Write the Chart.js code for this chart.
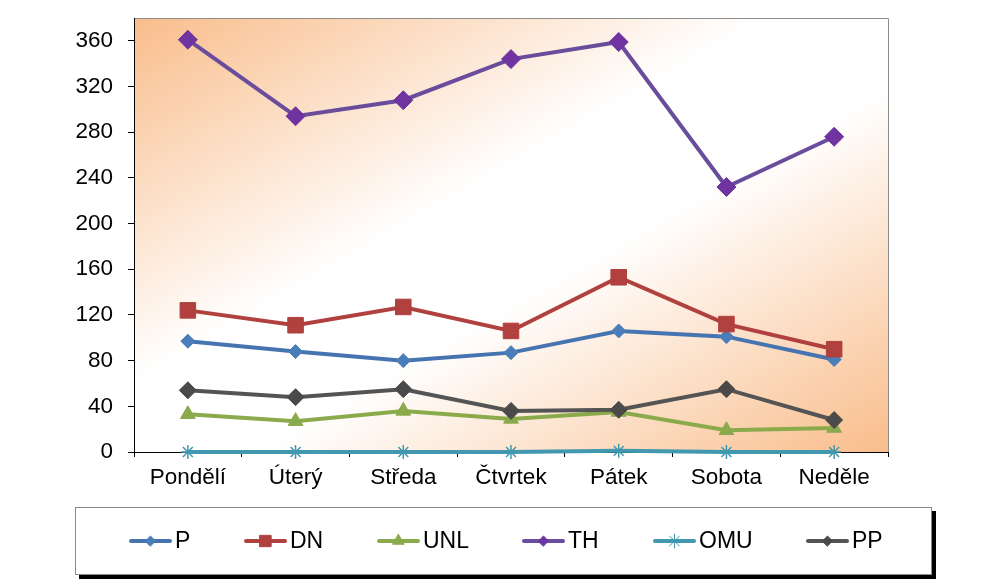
<!DOCTYPE html>
<html>
<head>
<meta charset="utf-8">
<script src="https://cdn.jsdelivr.net/npm/chart.js@4/dist/chart.umd.min.js"></script>
<style>
  html, body { margin: 0; padding: 0; background: #fff; }
  canvas { display: block; }
</style>
</head>
<body>
<canvas id="graf" width="981" height="580"></canvas>
<script>
// Data
const dny = ['Pondělí', 'Úterý', 'Středa', 'Čtvrtek', 'Pátek', 'Sobota', 'Neděle'];
const hodnotyP = [97, 88, 80, 87, 106, 101, 81];
const hodnotyDN = [124, 111, 127, 106, 153, 112, 90];
const hodnotyUNL = [33, 27, 36, 29, 35, 19, 21];
const hodnotyTH = [361, 294, 308, 344, 359, 232, 276];
const hodnotyOMU = [0, 0, 0, 0, 1, 0, 0];
const hodnotyPP = [54, 48, 55, 36, 37, 55, 28];
const osaYMax = 380;
const osaYKrok = 40;

const font = '"Liberation Sans", Arial, sans-serif';

// Series styles
const serie = [
  { label: 'P',   data: hodnotyP,   line: '#4674B0', fill: '#4A7EBB', style: 'rectRot',  r: 7,   lr: 5 },
  { label: 'DN',  data: hodnotyDN,  line: '#B0413E', fill: '#B0413E', style: 'rect',     r: 11,  lr: 8 },
  { label: 'UNL', data: hodnotyUNL, line: '#8AAA4C', fill: '#8AAA4C', style: 'triangle', r: 8.5, lr: 6.5 },
  { label: 'TH',  data: hodnotyTH,  line: '#6A4C9C', fill: '#7034A0', style: 'rectRot',  r: 9.5, lr: 5 },
  { label: 'OMU', data: hodnotyOMU, line: '#4198AF', fill: '#4198AF', style: 'star',     r: 7,   lr: 7 },
  { label: 'PP',  data: hodnotyPP,  line: '#545454', fill: '#4A4A4A', style: 'rectRot',  r: 8.5, lr: 5 }
];

// Background gradient + grey top/right border of the plot area
const pozadiPlugin = {
  id: 'pozadi',
  beforeDraw(chart) {
    const { ctx, chartArea: a } = chart;
    const w = a.right - a.left, h = a.bottom - a.top;
    const cx = a.left + w / 2, cy = a.top + h / 2;
    const n = Math.sqrt(w * w + h * h);
    const ux = h / n, uy = w / n;
    const L = w * h / n;
    const g = ctx.createLinearGradient(cx - ux * L, cy - uy * L, cx + ux * L, cy + uy * L);
    g.addColorStop(0, '#F9BD8B');
    g.addColorStop(0.42, '#FFFFFF');
    g.addColorStop(0.58, '#FFFFFF');
    g.addColorStop(1, '#F9BD8B');
    ctx.save();
    ctx.fillStyle = g;
    ctx.fillRect(a.left, a.top, w, h);
    ctx.strokeStyle = '#8C8C8C';
    ctx.lineWidth = 1;
    ctx.beginPath();
    ctx.moveTo(a.left, a.top + 0.5);
    ctx.lineTo(a.right + 0.5, a.top + 0.5);
    ctx.lineTo(a.right + 0.5, a.bottom);
    ctx.stroke();
    ctx.restore();
  }
};

// Legend box with shadow at the bottom
const legendaPlugin = {
  id: 'legenda',
  afterDraw(chart) {
    const ctx = chart.ctx;
    const zacatky = [129, 244, 377, 522, 653, 806];
    const y = 541;
    ctx.save();
    ctx.fillStyle = '#000';
    ctx.fillRect(79, 575, 857, 4);
    ctx.fillRect(932, 511, 4, 68);
    ctx.fillStyle = '#fff';
    ctx.fillRect(75, 507, 857, 68);
    ctx.strokeStyle = '#8C8C8C';
    ctx.lineWidth = 1;
    ctx.strokeRect(75.5, 507.5, 856, 67);

    serie.forEach((s, i) => {
      const x0 = zacatky[i];
      ctx.strokeStyle = s.line;
      ctx.lineWidth = 4;
      ctx.lineCap = 'round';
      ctx.beginPath();
      ctx.moveTo(x0 + 2, y);
      ctx.lineTo(x0 + 41, y);
      ctx.stroke();
      ctx.fillStyle = s.fill;
      ctx.strokeStyle = s.fill;
      ctx.lineWidth = 1;
      Chart.helpers.drawPoint(ctx, { pointStyle: s.style, radius: s.lr, rotation: 0, borderWidth: 1 }, x0 + 21.5, y);
      ctx.fillStyle = '#000';
      ctx.font = '23px ' + font;
      ctx.textBaseline = 'middle';
      ctx.textAlign = 'left';
      ctx.fillText(s.label, x0 + 46, y + 1);
    });
    ctx.restore();
  }
};

new Chart(document.getElementById('graf'), {
  type: 'line',
  data: {
    labels: dny,
    datasets: serie.map((s, i) => ({
      label: s.label,
      data: s.data,
      borderColor: s.line,
      backgroundColor: s.fill,
      borderWidth: 4,
      tension: 0,
      pointStyle: s.style,
      pointRadius: s.r,
      pointHoverRadius: s.r,
      pointBackgroundColor: s.fill,
      pointBorderColor: s.fill,
      pointBorderWidth: s.style === 'star' ? 1.5 : 1,
      clip: false,
      order: serie.length - i
    }))
  },
  options: {
    responsive: false,
    animation: false,
    layout: { padding: { top: 18, right: 93, left: 0, bottom: 0 } },
    plugins: {
      legend: { display: false },
      tooltip: { enabled: false }
    },
    scales: {
      x: {
        offset: true,
        grid: { offset: true, drawOnChartArea: false, color: '#000', tickLength: 5 },
        border: { color: '#000', width: 1 },
        ticks: { color: '#000', font: { family: font, size: 22.5 }, padding: 7, maxRotation: 0 },
        afterFit(scale) { scale.height = 128; scale.paddingLeft = 0; scale.paddingRight = 0; }
      },
      y: {
        min: 0,
        max: osaYMax,
        grid: { drawOnChartArea: false, color: '#000', tickLength: 6 },
        border: { color: '#000', width: 1 },
        ticks: { stepSize: osaYKrok, includeBounds: false, color: '#000', font: { family: font, size: 22.5 }, padding: 15 },
        afterFit(scale) { scale.width = 134; scale.paddingTop = 0; scale.paddingBottom = 0; }
      }
    }
  },
  plugins: [pozadiPlugin, legendaPlugin]
});
</script>
</body>
</html>
